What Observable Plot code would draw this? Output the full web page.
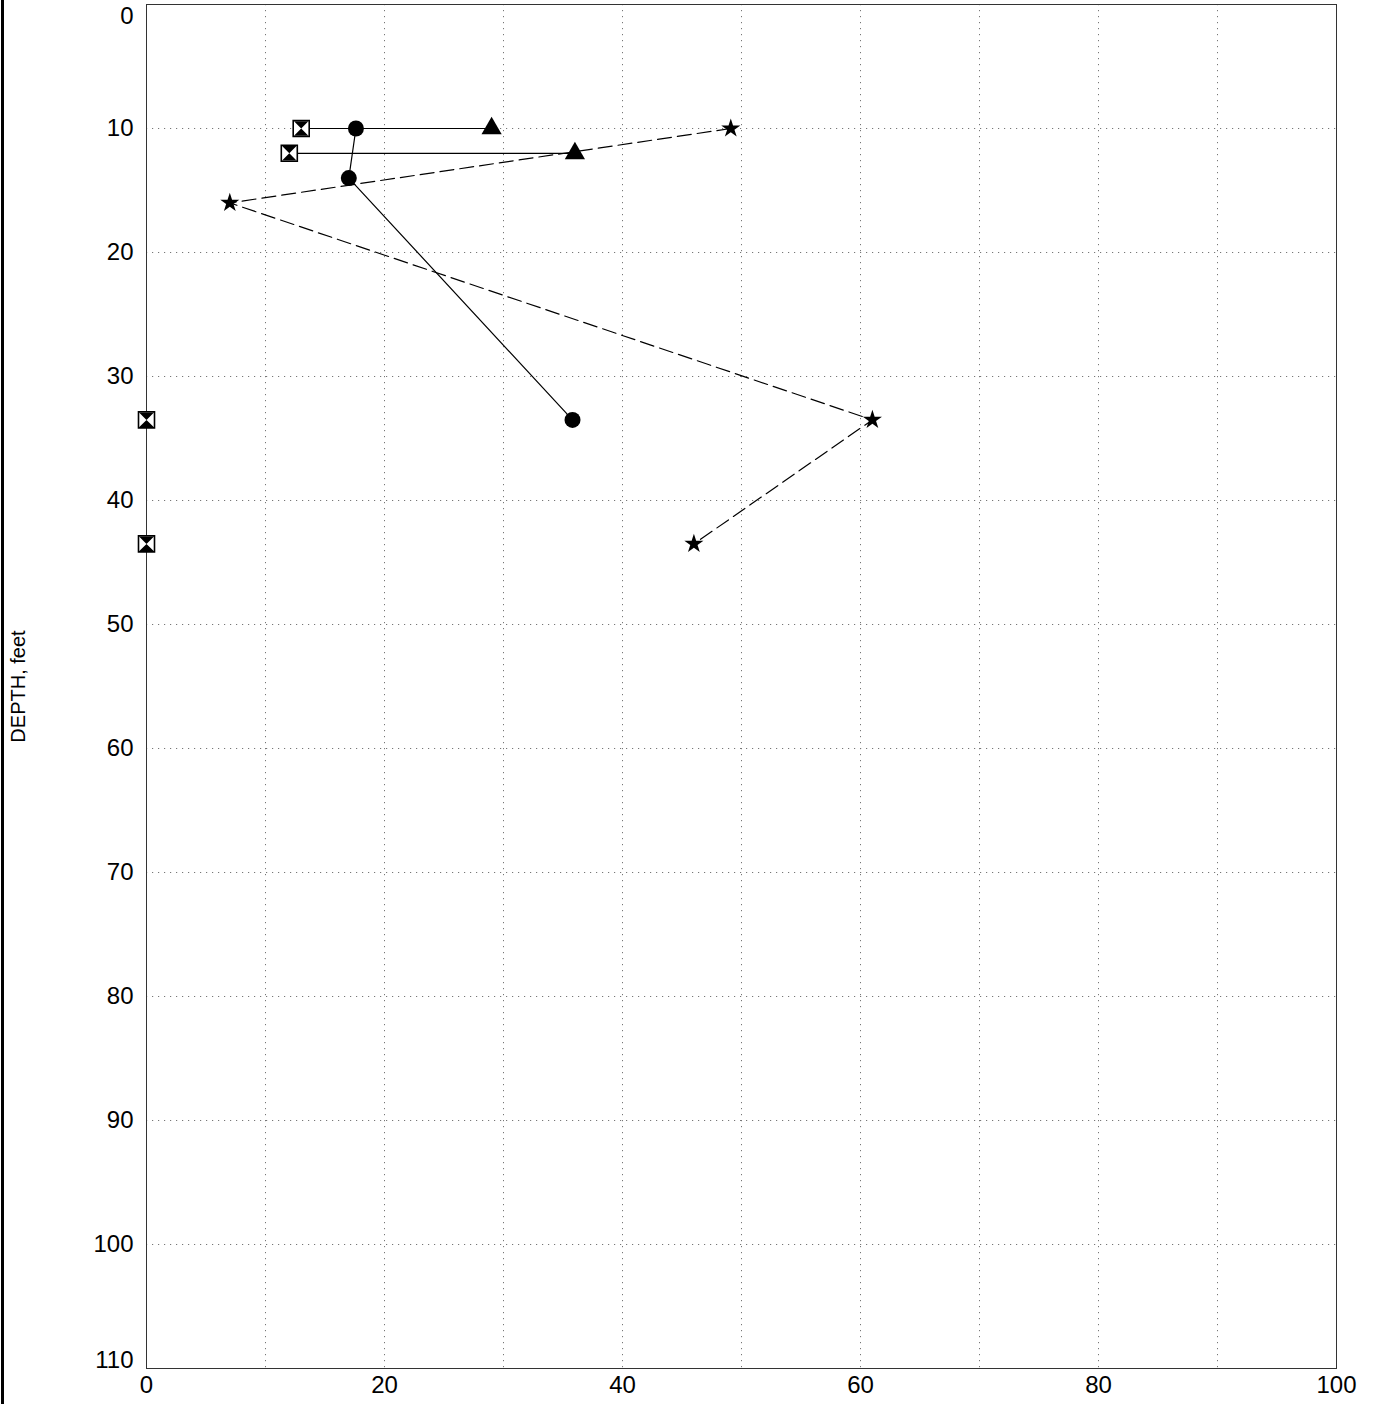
<!DOCTYPE html>
<html>
<head>
<meta charset="utf-8">
<script src="https://cdn.jsdelivr.net/npm/d3@7"></script>
<script src="https://cdn.jsdelivr.net/npm/@observablehq/plot@0.6"></script>
<style>
  html, body { margin: 0; padding: 0; background: #fff; }
  #wrap { position: relative; width: 1374px; height: 1404px; }
  #edge { position: absolute; left: 1px; top: 0; width: 3px; height: 1404px; background: #000; }
</style>
</head>
<body>
<div id="wrap"><div id="edge"></div></div>
<script>
// ---- data ----
const xTicks = [0, 10, 20, 30, 40, 50, 60, 70, 80, 90, 100];
const xLabels = [0, 20, 40, 60, 80, 100];
const yTicks = [0, 10, 20, 30, 40, 50, 60, 70, 80, 90, 100, 110];

// bowtie (square-hourglass) series
const bowDepth = [10, 12, 33.5, 43.5];
const bowValue = [13, 12, 0, 0];
// triangle series
const triDepth = [10, 12];
const triValue = [29, 36];
// circle series (solid line)
const circDepth = [10, 14, 33.5];
const circValue = [17.6, 17, 35.8];
// star series (dashed line)
const starDepth = [10, 16, 33.5, 43.5];
const starValue = [49.1, 7, 61, 46];

// ---- tables ----
const bows = bowDepth.map((d, i) => ({depth: d, value: bowValue[i]}));
const tris = triDepth.map((d, i) => ({depth: d, value: triValue[i]}));
const circs = circDepth.map((d, i) => ({depth: d, value: circValue[i]}));
const stars = starDepth.map((d, i) => ({depth: d, value: starValue[i]}));
const ranges = triDepth.map((d, i) => ({depth: d, lo: bowValue[bowDepth.indexOf(d)], hi: triValue[i]}));

const squareSym = {
  draw(ctx, size) {
    const h = Math.sqrt(size / Math.PI);
    ctx.moveTo(-h, -h); ctx.lineTo(h, -h); ctx.lineTo(h, h); ctx.lineTo(-h, h); ctx.closePath();
  }
};
const hourglassSym = {
  draw(ctx, size) {
    const h = Math.sqrt(size / Math.PI) - 0.8;
    ctx.moveTo(-h, -h); ctx.lineTo(h, -h); ctx.lineTo(0, 0); ctx.lineTo(h, h); ctx.lineTo(-h, h); ctx.lineTo(0, 0); ctx.closePath();
  }
};

const font = "'Liberation Sans', Arial, sans-serif";

const chart = Plot.plot({
  width: 1374,
  height: 1404,
  marginLeft: 146,
  marginRight: 38,
  marginTop: 4,
  marginBottom: 36,
  style: {fontFamily: font, fontSize: "24px", background: "transparent"},
  x: {domain: [0, 100]},
  y: {domain: [0, 110], reverse: true},
  marks: [
    Plot.gridX({ticks: xTicks, stroke: "#777", strokeOpacity: 1, strokeDasharray: "1.2,4.8"}),
    Plot.gridY({ticks: yTicks, stroke: "#777", strokeOpacity: 1, strokeDasharray: "1.2,4.8"}),
    Plot.frame({stroke: "#333", strokeWidth: 1}),
    Plot.axisX({ticks: xLabels, tickSize: 0, tickPadding: 7, fontSize: 24, label: null}),
    Plot.axisY({ticks: yTicks.slice(1, -1), tickSize: 0, tickPadding: 13, fontSize: 24, label: null}),
    Plot.axisY({ticks: yTicks.slice(0, 1), tickSize: 0, tickPadding: 13, fontSize: 24, dy: 12, label: null}),
    Plot.axisY({ticks: yTicks.slice(-1), tickSize: 0, tickPadding: 13, fontSize: 24, dy: -8, label: null}),
    Plot.text(["DEPTH, feet"], {frameAnchor: "left", textAnchor: "middle", rotate: -90, dx: -128, fontSize: 20, fill: "#000"}),
    Plot.link(ranges, {x1: "lo", x2: "hi", y1: "depth", y2: "depth", stroke: "#000", strokeWidth: 1.2}),
    Plot.line(circs, {x: "value", y: "depth", stroke: "#000", strokeWidth: 1.2}),
    Plot.line(stars, {x: "value", y: "depth", stroke: "#000", strokeWidth: 1.2, strokeDasharray: "14,6"}),
    Plot.dot(bows, {x: "value", y: "depth", symbol: squareSym, r: 8, fill: "#fff", stroke: "#000", strokeWidth: 1.6}),
    Plot.dot(bows, {x: "value", y: "depth", symbol: hourglassSym, r: 8, fill: "#000", stroke: "none"}),
    Plot.dot(tris, {x: "value", y: "depth", symbol: "triangle", r: 7.5, fill: "#000", stroke: "none"}),
    Plot.dot(circs, {x: "value", y: "depth", symbol: "circle", r: 8, fill: "#000", stroke: "none"}),
    Plot.dot(stars, {x: "value", y: "depth", symbol: "star", r: 6, fill: "#000", stroke: "none"})
  ]
});
document.getElementById("wrap").appendChild(chart);
chart.style.position = "absolute";
chart.style.left = "0";
chart.style.top = "0";
</script>
</body>
</html>
